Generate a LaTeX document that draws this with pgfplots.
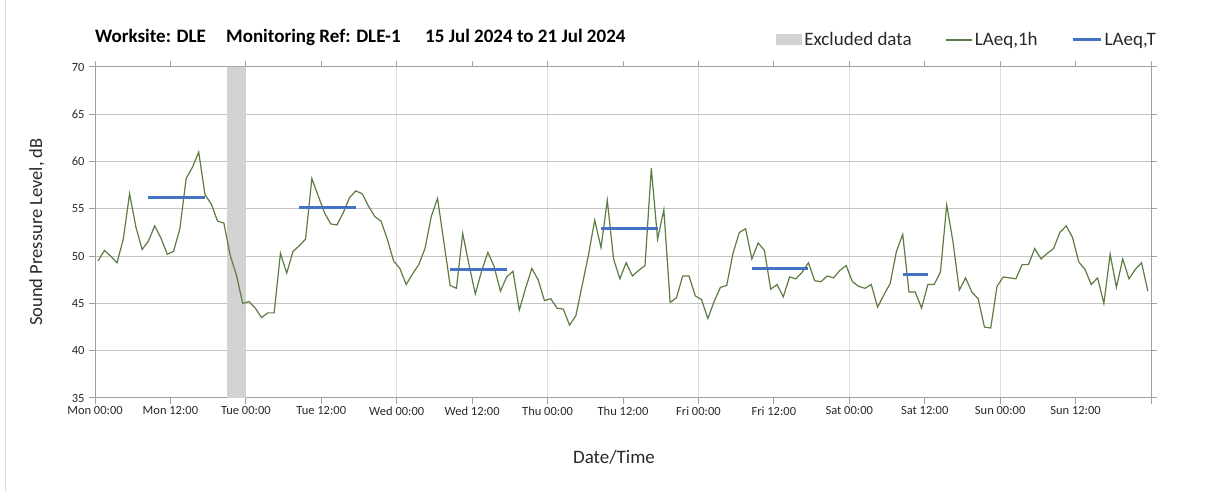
\documentclass[border=0pt]{standalone}
\usepackage{fontspec}
\setmainfont{Carlito}
\usepackage{pgfplots}
\usepackage{pgfplotstable}
\pgfplotsset{compat=1.18}
\definecolor{lgreen}{RGB}{92,124,66}
\definecolor{lblue}{RGB}{68,114,196}
\definecolor{bandc}{RGB}{210,210,210}
\definecolor{gridc}{RGB}{196,196,196}
\definecolor{vgridc}{RGB}{222,222,222}
\definecolor{axc}{RGB}{160,160,160}
\definecolor{txtc}{RGB}{40,40,40}

\pgfplotstableread{
x y
0.5 49.5
1.5 50.6
2.5 50.0
3.5 49.3
4.5 51.8
5.5 56.6
6.5 53.1
7.5 50.7
8.5 51.6
9.5 53.2
10.5 51.9
11.5 50.2
12.5 50.5
13.5 52.9
14.5 58.2
15.5 59.4
16.5 61.0
17.5 56.5
18.5 55.5
19.5 53.7
20.5 53.5
21.5 50.1
22.5 48.0
23.5 45.0
24.5 45.2
25.5 44.5
26.5 43.5
27.5 44.0
28.5 44.0
29.5 50.3
30.5 48.2
31.5 50.5
32.5 51.1
33.5 51.8
34.5 58.2
35.5 56.4
36.5 54.6
37.5 53.4
38.5 53.3
39.5 54.6
40.5 56.2
41.5 56.9
42.5 56.6
43.5 55.3
44.5 54.2
45.5 53.7
46.5 51.8
47.5 49.5
48.5 48.7
49.5 47.0
50.5 48.1
51.5 49.1
52.5 50.8
53.5 54.2
54.5 56.1
55.5 51.5
56.5 46.9
57.5 46.6
58.5 52.4
59.5 49.1
60.5 46.0
61.5 48.4
62.5 50.4
63.5 48.9
64.5 46.3
65.5 47.8
66.5 48.4
67.5 44.3
68.5 46.6
69.5 48.7
70.5 47.5
71.5 45.3
72.5 45.5
73.5 44.5
74.5 44.4
75.5 42.7
76.5 43.7
77.5 46.9
78.5 50.1
79.5 53.8
80.5 50.9
81.5 55.9
82.5 49.7
83.5 47.6
84.5 49.3
85.5 47.9
86.5 48.5
87.5 49.0
88.5 59.3
89.5 51.8
90.5 54.9
91.5 45.1
92.5 45.6
93.5 47.9
94.5 47.9
95.5 45.8
96.5 45.4
97.5 43.4
98.5 45.2
99.5 46.7
100.5 46.9
101.5 50.3
102.5 52.5
103.5 52.9
104.5 49.7
105.5 51.4
106.5 50.6
107.5 46.5
108.5 47.0
109.5 45.7
110.5 47.8
111.5 47.6
112.5 48.3
113.5 49.3
114.5 47.4
115.5 47.3
116.5 47.9
117.5 47.7
118.5 48.5
119.5 49.0
120.5 47.3
121.5 46.8
122.5 46.6
123.5 47.0
124.5 44.6
125.5 45.9
126.5 47.1
127.5 50.5
128.5 52.3
129.5 46.2
130.5 46.2
131.5 44.5
132.5 47.0
133.5 47.0
134.5 48.3
135.5 55.4
136.5 51.5
137.5 46.4
138.5 47.7
139.5 46.2
140.5 45.5
141.5 42.5
142.5 42.4
143.5 46.8
144.5 47.8
145.5 47.7
146.5 47.6
147.5 49.1
148.5 49.1
149.5 50.8
150.5 49.7
151.5 50.3
152.5 50.8
153.5 52.5
154.5 53.2
155.5 52.0
156.5 49.4
157.5 48.6
158.5 47.0
159.5 47.7
160.5 45.0
161.5 50.2
162.5 46.7
163.5 49.7
164.5 47.6
165.5 48.6
166.5 49.3
167.5 46.3
}\hourly

\begin{document}
\begin{tikzpicture}
\useasboundingbox (0pt,0pt) rectangle (1208pt,492pt);
\draw[vgridc, line width=1pt] (5pt,0pt) -- (5pt,492pt);
\node[anchor=base west, font=\bfseries\fontsize{19}{22}\selectfont, text=black, inner sep=0pt] at (95pt,449pt) {Worksite: DLE};
\node[anchor=base west, font=\bfseries\fontsize{19}{22}\selectfont, text=black, inner sep=0pt] at (226pt,449pt) {Monitoring Ref: DLE-1};
\node[anchor=base west, font=\bfseries\fontsize{19}{22}\selectfont, text=black, inner sep=0pt] at (425pt,449pt) {15 Jul 2024 to 21 Jul 2024};
\node[rotate=90, font=\fontsize{18.5}{20}\selectfont, text=txtc] at (37pt,260pt) {Sound Pressure Level, dB};
\node[font=\fontsize{19}{21}\selectfont, text=txtc] at (614pt,35pt) {Date/Time};
\begin{axis}[
  at={(95pt,94pt)}, anchor=south west,
  width=1056pt, height=331pt, scale only axis,
  xmin=0, xmax=168, ymin=35, ymax=70,
  xtick={0,12,...,168},
  xticklabels={Mon 00:00,Mon 12:00,Tue 00:00,Tue 12:00,Wed 00:00,Wed 12:00,Thu 00:00,Thu 12:00,Fri 00:00,Fri 12:00,Sat 00:00,Sat 12:00,Sun 00:00,Sun 12:00,{}},
  minor xtick={24,48,...,144},
  xminorgrids=true,
  minor grid style={vgridc, line width=1pt},
  ytick={35,40,...,70},
  ymajorgrids=true,
  major grid style={gridc, line width=1pt},
  axis line style={axc, line width=1pt},
  tick align=outside,
  major tick length=6pt,
  minor tick length=0pt,
  tick style={axc, line width=1pt},
  /pgf/number format/assume math mode=true,
  tick label style={font=\fontsize{12.5}{14}\selectfont, text=txtc},
  xticklabel style={yshift=1pt},
  yticklabel style={xshift=-1pt},
  unbounded coords=jump,
  legend columns=3,
  legend style={at={(1.0095,1.0816)}, anchor=east, draw=none, fill=none,
    font=\fontsize{19}{21}\selectfont, text=txtc,
    /tikz/every odd column/.style={column sep=0pt},
    /tikz/every even column/.style={column sep=32pt}},
  legend cell align=left,
]
\addplot[fill=bandc, draw=none, area legend,
  legend image code/.code={\fill[bandc] (0pt,-5pt) rectangle (26pt,6pt);}]
  coordinates {(21,35) (21,70) (24,70) (24,35)} \closedcycle;
\addlegendentry{Excluded data}
\addplot[lgreen, line width=1.2pt, no markers,
  legend image code/.code={\draw[lgreen, line width=1.2pt] (0pt,0pt) -- (26pt,0pt);}]
  table[x=x, y=y] {\hourly};
\addlegendentry{LAeq,1h}
\addplot[lblue, line width=3pt, no markers,
  legend image code/.code={\draw[lblue, line width=3pt] (0pt,0pt) -- (28pt,0pt);}]
  coordinates {(8.5,56.2) (17.5,56.2) (20,nan) (32.5,55.1) (41.5,55.1) (44,nan)
    (56.5,48.6) (65.5,48.6) (68,nan) (80.5,52.9) (89.5,52.9) (92,nan)
    (104.5,48.7) (113.5,48.7) (116,nan) (128.5,48.1) (132.5,48.1)};
\addlegendentry{LAeq,T}
\end{axis}
\end{tikzpicture}
\end{document}
